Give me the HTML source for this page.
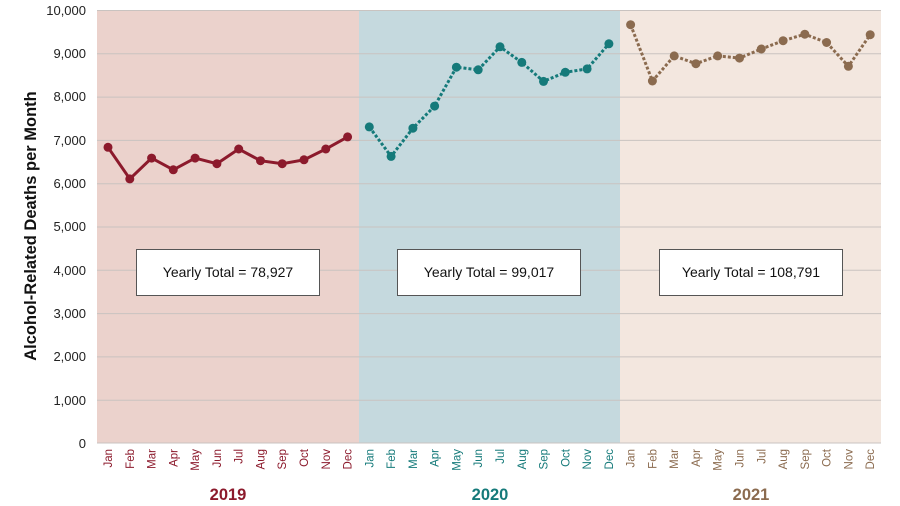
<!DOCTYPE html>
<html><head><meta charset="utf-8"><style>body{margin:0;background:#fff}svg{display:block;font-family:"Liberation Sans",Arial,sans-serif}</style></head><body>
<svg width="900" height="506" viewBox="0 0 900 506">
<rect x="97" y="10" width="262" height="433" fill="#ebd2cc"/>
<rect x="359" y="10" width="261" height="433" fill="#c5d9de"/>
<rect x="620" y="10" width="261" height="433" fill="#f3e7df"/>
<g stroke="#c9c3c0" stroke-width="1">
<line x1="97" x2="881" y1="10.5" y2="10.5"/><line x1="97" x2="881" y1="53.8" y2="53.8"/><line x1="97" x2="881" y1="97.1" y2="97.1"/><line x1="97" x2="881" y1="140.4" y2="140.4"/><line x1="97" x2="881" y1="183.7" y2="183.7"/><line x1="97" x2="881" y1="227" y2="227"/><line x1="97" x2="881" y1="270.3" y2="270.3"/><line x1="97" x2="881" y1="313.6" y2="313.6"/><line x1="97" x2="881" y1="356.9" y2="356.9"/><line x1="97" x2="881" y1="400.2" y2="400.2"/><line x1="97" x2="881" y1="443" y2="443"/>
</g>
<g font-size="13" fill="#222" text-anchor="end">
<text x="86" y="15">10,000</text><text x="86" y="58">9,000</text><text x="86" y="101">8,000</text><text x="86" y="145">7,000</text><text x="86" y="188">6,000</text><text x="86" y="231">5,000</text><text x="86" y="275">4,000</text><text x="86" y="318">3,000</text><text x="86" y="361">2,000</text><text x="86" y="405">1,000</text><text x="86" y="448">0</text>
</g>
<text transform="translate(36,226) rotate(-90)" text-anchor="middle" font-size="16.5" font-weight="bold" fill="#111">Alcohol-Related Deaths per Month</text>
<polyline fill="none" stroke="#8c1a2c" stroke-width="3" points="108,147.3 129.8,178.9 151.6,158.1 173.3,169.8 195.1,158.1 216.9,163.7 238.7,149 260.5,160.7 282.2,163.7 304,159.8 325.8,149 347.6,136.9"/>
<g fill="#8c1a2c"><circle cx="108" cy="147.3" r="4.5"/><circle cx="129.8" cy="178.9" r="4.5"/><circle cx="151.6" cy="158.1" r="4.5"/><circle cx="173.3" cy="169.8" r="4.5"/><circle cx="195.1" cy="158.1" r="4.5"/><circle cx="216.9" cy="163.7" r="4.5"/><circle cx="238.7" cy="149" r="4.5"/><circle cx="260.5" cy="160.7" r="4.5"/><circle cx="282.2" cy="163.7" r="4.5"/><circle cx="304" cy="159.8" r="4.5"/><circle cx="325.8" cy="149" r="4.5"/><circle cx="347.6" cy="136.9" r="4.5"/></g>
<polyline fill="none" stroke="#157a7a" stroke-width="3" stroke-dasharray="3,2" points="369.3,126.9 391.1,156.4 412.9,128.2 434.6,106.1 456.4,67.2 478.2,69.8 500,46.8 521.8,62.4 543.5,81.4 565.3,72.3 587.1,68.9 608.9,43.8"/>
<g fill="#157a7a"><circle cx="369.3" cy="126.9" r="4.5"/><circle cx="391.1" cy="156.4" r="4.5"/><circle cx="412.9" cy="128.2" r="4.5"/><circle cx="434.6" cy="106.1" r="4.5"/><circle cx="456.4" cy="67.2" r="4.5"/><circle cx="478.2" cy="69.8" r="4.5"/><circle cx="500" cy="46.8" r="4.5"/><circle cx="521.8" cy="62.4" r="4.5"/><circle cx="543.5" cy="81.4" r="4.5"/><circle cx="565.3" cy="72.3" r="4.5"/><circle cx="587.1" cy="68.9" r="4.5"/><circle cx="608.9" cy="43.8" r="4.5"/></g>
<polyline fill="none" stroke="#8b6b4f" stroke-width="3" stroke-dasharray="3,2" points="630.6,24.7 652.4,81 674.2,55.9 695.9,63.7 717.7,55.9 739.5,58.1 761.3,49 783.1,40.7 804.8,34.2 826.6,42.5 848.4,66.3 870.2,34.7"/>
<g fill="#8b6b4f"><circle cx="630.6" cy="24.7" r="4.5"/><circle cx="652.4" cy="81" r="4.5"/><circle cx="674.2" cy="55.9" r="4.5"/><circle cx="695.9" cy="63.7" r="4.5"/><circle cx="717.7" cy="55.9" r="4.5"/><circle cx="739.5" cy="58.1" r="4.5"/><circle cx="761.3" cy="49" r="4.5"/><circle cx="783.1" cy="40.7" r="4.5"/><circle cx="804.8" cy="34.2" r="4.5"/><circle cx="826.6" cy="42.5" r="4.5"/><circle cx="848.4" cy="66.3" r="4.5"/><circle cx="870.2" cy="34.7" r="4.5"/></g>
<g stroke="#555" stroke-width="1" fill="#fff">
<rect x="136.5" y="249.5" width="183" height="46"/><rect x="397.5" y="249.5" width="183" height="46"/><rect x="659.5" y="249.5" width="183" height="46"/>
</g>
<g font-size="14" fill="#111" text-anchor="middle">
<text x="228" y="277">Yearly Total = 78,927</text><text x="489" y="277">Yearly Total = 99,017</text><text x="751" y="277">Yearly Total = 108,791</text>
</g>
<g font-size="11.5" text-anchor="end">
<g fill="#8c1a2c">
<text transform="translate(112,449) rotate(-90)">Jan</text><text transform="translate(133.8,449) rotate(-90)">Feb</text><text transform="translate(155.6,449) rotate(-90)">Mar</text><text transform="translate(177.3,449) rotate(-90)">Apr</text><text transform="translate(199.1,449) rotate(-90)">May</text><text transform="translate(220.9,449) rotate(-90)">Jun</text><text transform="translate(242.7,449) rotate(-90)">Jul</text><text transform="translate(264.5,449) rotate(-90)">Aug</text><text transform="translate(286.2,449) rotate(-90)">Sep</text><text transform="translate(308,449) rotate(-90)">Oct</text><text transform="translate(329.8,449) rotate(-90)">Nov</text><text transform="translate(351.6,449) rotate(-90)">Dec</text>
</g>
<g fill="#157a7a">
<text transform="translate(373.3,449) rotate(-90)">Jan</text><text transform="translate(395.1,449) rotate(-90)">Feb</text><text transform="translate(416.9,449) rotate(-90)">Mar</text><text transform="translate(438.6,449) rotate(-90)">Apr</text><text transform="translate(460.4,449) rotate(-90)">May</text><text transform="translate(482.2,449) rotate(-90)">Jun</text><text transform="translate(504,449) rotate(-90)">Jul</text><text transform="translate(525.8,449) rotate(-90)">Aug</text><text transform="translate(547.5,449) rotate(-90)">Sep</text><text transform="translate(569.3,449) rotate(-90)">Oct</text><text transform="translate(591.1,449) rotate(-90)">Nov</text><text transform="translate(612.9,449) rotate(-90)">Dec</text>
</g>
<g fill="#8b6b4f">
<text transform="translate(634.6,449) rotate(-90)">Jan</text><text transform="translate(656.4,449) rotate(-90)">Feb</text><text transform="translate(678.2,449) rotate(-90)">Mar</text><text transform="translate(699.9,449) rotate(-90)">Apr</text><text transform="translate(721.7,449) rotate(-90)">May</text><text transform="translate(743.5,449) rotate(-90)">Jun</text><text transform="translate(765.3,449) rotate(-90)">Jul</text><text transform="translate(787.1,449) rotate(-90)">Aug</text><text transform="translate(808.8,449) rotate(-90)">Sep</text><text transform="translate(830.6,449) rotate(-90)">Oct</text><text transform="translate(852.4,449) rotate(-90)">Nov</text><text transform="translate(874.2,449) rotate(-90)">Dec</text>
</g>
</g>
<g font-size="16.5" font-weight="bold" text-anchor="middle">
<text x="228" y="500" fill="#8c1a2c">2019</text><text x="490" y="500" fill="#157a7a">2020</text><text x="751" y="500" fill="#8b6b4f">2021</text>
</g>
</svg>
</body></html>
